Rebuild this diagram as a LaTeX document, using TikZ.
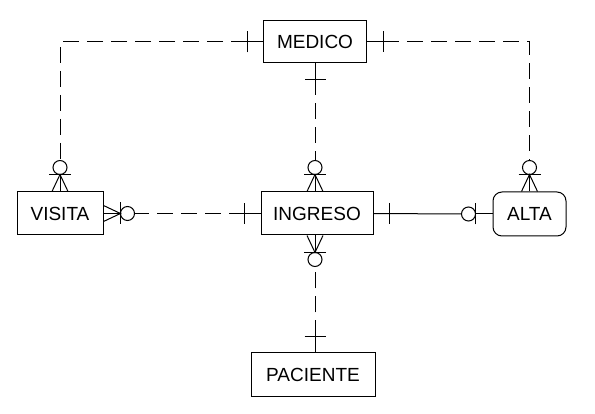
\documentclass[tikz,border=0pt]{standalone}
\usepackage{fontspec}
\setmainfont{Liberation Sans}
\usetikzlibrary{calc}
\begin{document}
\begin{tikzpicture}[x=1pt,y=-1pt,line width=1pt,
  entity/.style={draw,inner sep=0pt,minimum height=43pt,font=\fontsize{19}{22}\selectfont},
  rel/.style={dash pattern=on 16pt off 8pt,dash phase=8pt},
  crowzero/.pic={
    \draw (0,-8) -- (17,0) -- (0,8);
    \draw (0,0) -- (17,0);
    \draw (17,-11) -- (17,11);
    \draw (24,0) circle[radius=7pt];
  },
  onebar/.pic={
    \draw (0,0) -- (32,0);
    \draw (16,-10.5) -- (16,10.5);
  },
  zerobar/.pic={
    \draw (0,0) -- (17,0);
    \draw (17,-10.5) -- (17,10.5);
    \draw (24,0) circle[radius=7pt];
  }]
\useasboundingbox (0,0) rectangle (595,414);

\node[entity,minimum width=103pt,minimum height=42pt] (MEDICO) at (315,42) {MEDICO};
\node[entity,minimum width=86pt] (VISITA) at (60,213.5) {VISITA};
\node[entity,minimum width=112pt] (INGRESO) at (317,213.5) {INGRESO};
\node[entity,minimum width=73pt,minimum height=44pt,rounded corners=9pt] (ALTA) at (529.5,214) {ALTA};
\node[entity,minimum width=124pt] (PACIENTE) at (313,374.5) {PACIENTE};

% circle tips (free ends of connectors)
\coordinate (vistop) at ($(VISITA.north)+(0,-31)$);
\coordinate (altatop) at ($(ALTA.north)+(0,-31)$);
\coordinate (visright) at ($(VISITA.east)+(31,0)$);
\coordinate (ingtop) at ($(INGRESO.north -| MEDICO.south)+(0,-31)$);
\coordinate (ingbot) at ($(INGRESO.south -| MEDICO.south)+(0,31)$);
\coordinate (altaleft) at ($(ALTA.west)+(-31,0)$);

% connectors
\draw[rel] (MEDICO.west) -| (vistop);
\draw[rel] (MEDICO.east) -| (altatop);
\draw[rel] (MEDICO.south) -- (ingtop);
\draw[rel] (INGRESO.west) -- (visright);
\draw[rel] (PACIENTE.north -| MEDICO.south) -- (ingbot);
\draw (INGRESO.east) -- (altaleft);

% end symbols
\path (MEDICO.west) pic[rotate=180]{onebar};
\path (MEDICO.east) pic{onebar};
\path (MEDICO.south) pic[rotate=-90]{onebar};
\path (VISITA.north) pic[rotate=90]{crowzero};
\path (VISITA.east) pic{crowzero};
\path (INGRESO.north -| MEDICO.south) pic[rotate=90]{crowzero};
\path (INGRESO.south -| MEDICO.south) pic[rotate=-90]{crowzero};
\path (INGRESO.west) pic[rotate=180]{onebar};
\path (INGRESO.east) pic{onebar};
\path (ALTA.west) pic[rotate=180]{zerobar};
\path (ALTA.north) pic[rotate=90]{crowzero};
\path (PACIENTE.north -| MEDICO.south) pic[rotate=90]{onebar};
\end{tikzpicture}
\end{document}
